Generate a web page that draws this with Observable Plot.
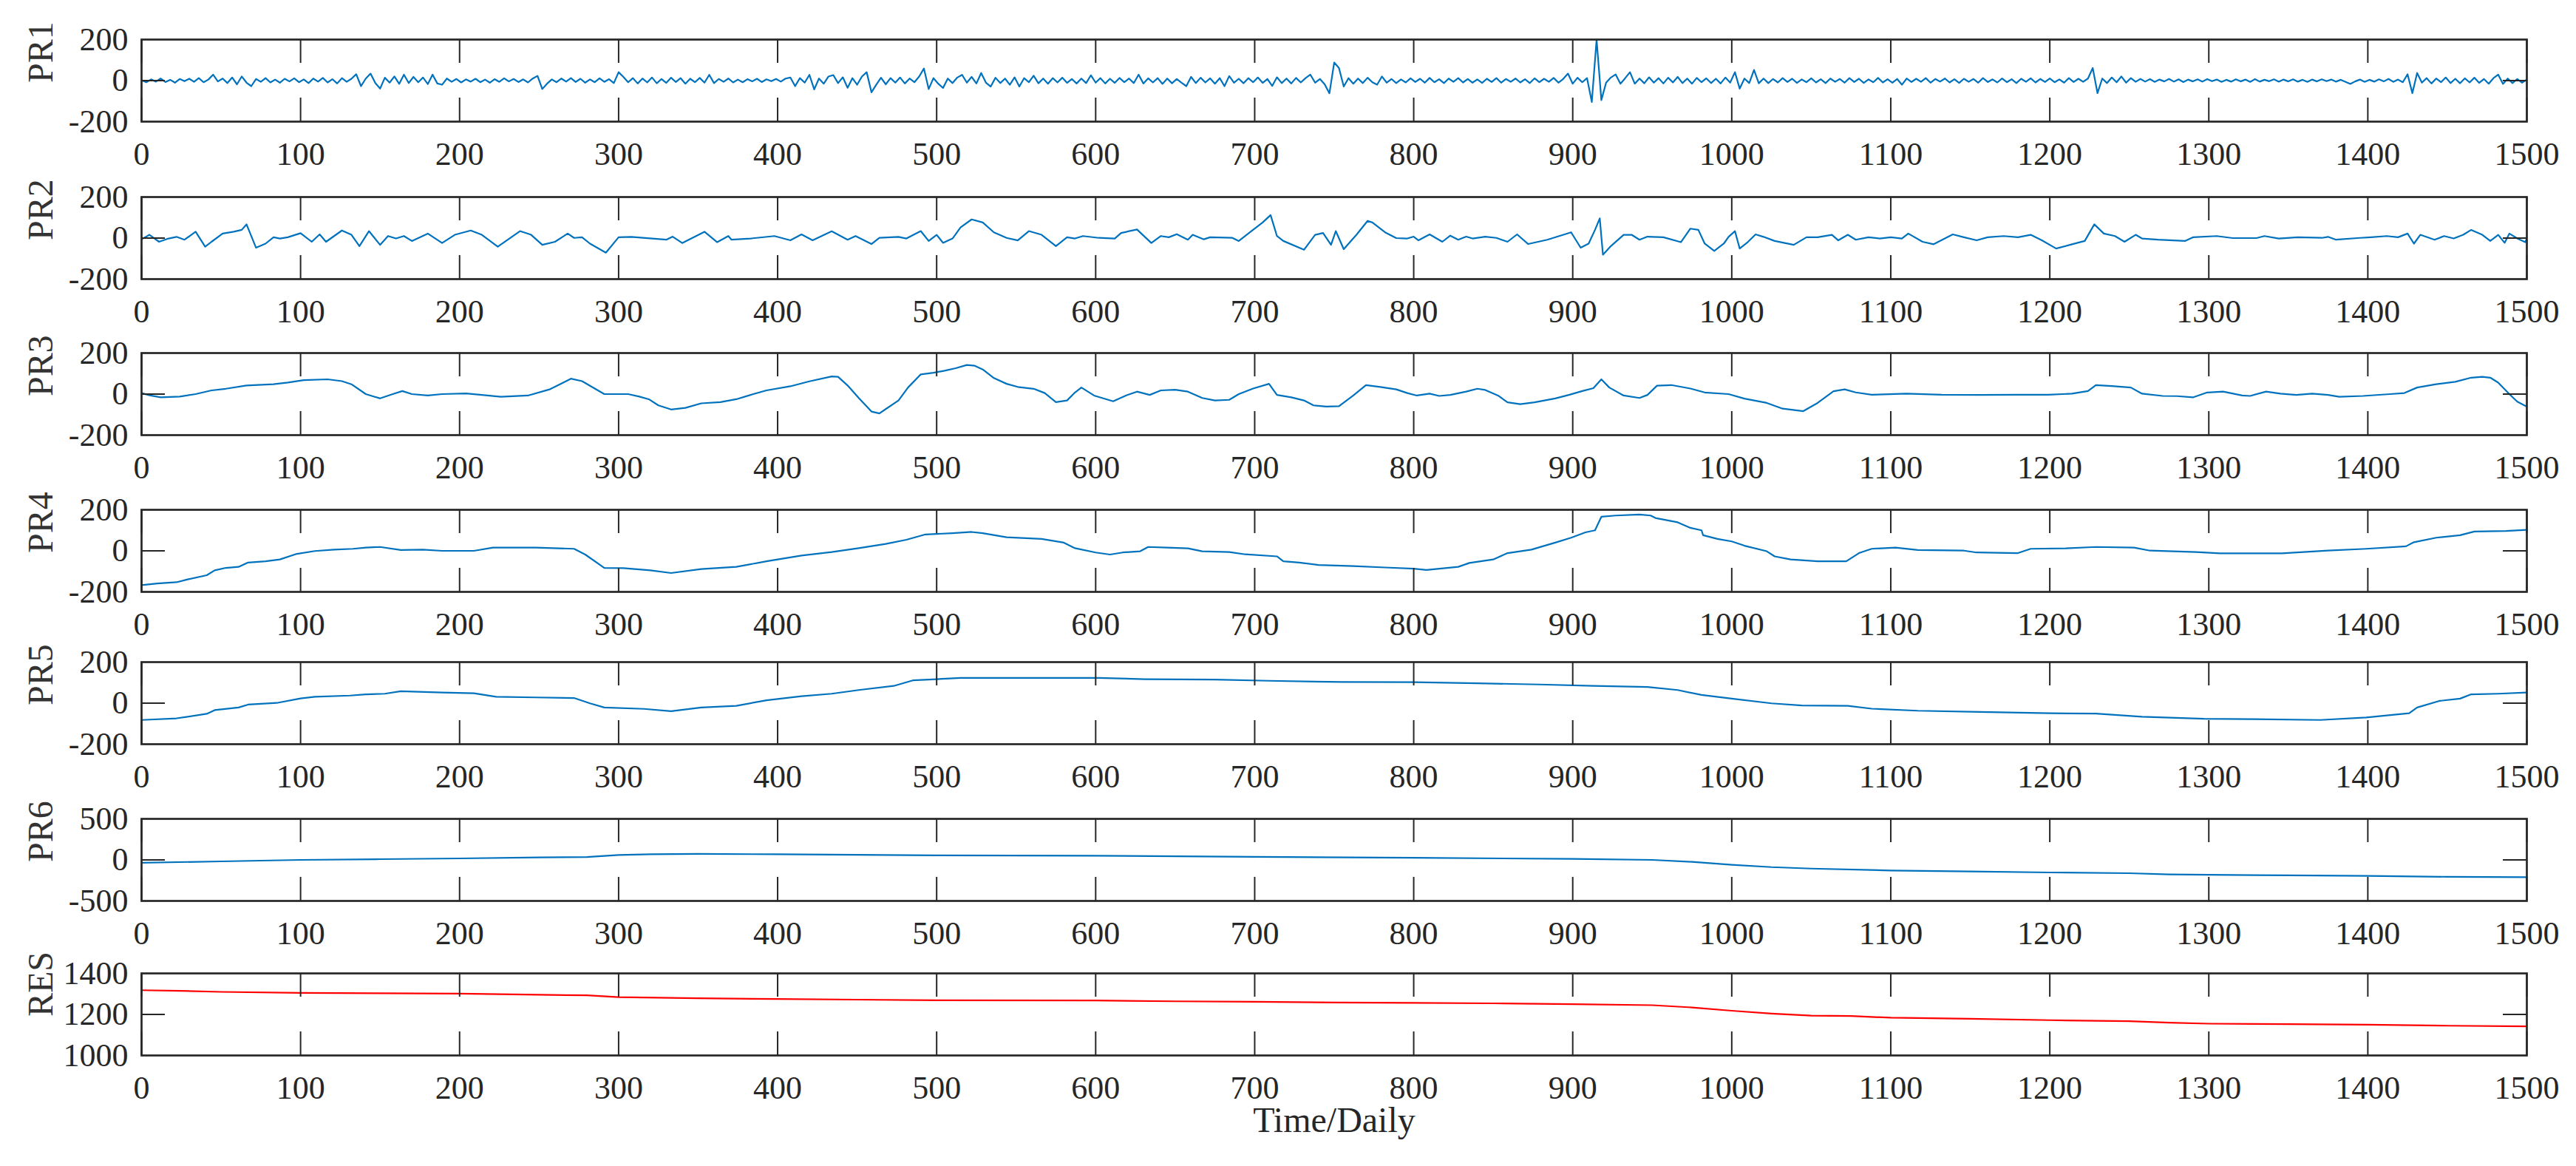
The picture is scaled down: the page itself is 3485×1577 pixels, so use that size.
<!DOCTYPE html>
<html><head><meta charset="utf-8">
<script src="https://cdn.jsdelivr.net/npm/d3@7"></script>
<script src="https://cdn.jsdelivr.net/npm/@observablehq/plot@0.6"></script>
<style>
html,body{margin:0;padding:0;background:#fff;}
#chart{position:relative;width:3485px;height:1577px;background:#fff;overflow:hidden;}
#chart svg{position:absolute;left:0;}
</style></head><body><div id="chart"></div>
<script>
// ---------- data ----------
const xTicks = [0,100,200,300,400,500,600,700,800,900,1000,1100,1200,1300,1400,1500];
const panelLabels = ["PR1","PR2","PR3","PR4","PR5","PR6","RES"];
const yDomains = [[-200,200],[-200,200],[-200,200],[-200,200],[-200,200],[-500,500],[1000,1400]];
const yTicks = [[-200,0,200],[-200,0,200],[-200,0,200],[-200,0,200],[-200,0,200],[-500,0,500],[1000,1200,1400]];
const lineColors = ["#0072BD","#0072BD","#0072BD","#0072BD","#0072BD","#0072BD","#FF0000"];
const xLabel = "Time/Daily";

// PR1: one value every 3 days
const pr1Step = 3;
const pr1Values = [
2,-8,6,-5,10,-7,4,-10,8,-3,
9,-6,12,-8,5,29,-4,10,-12,15,
-18,20,-10,-27,8,-6,12,-9,5,-10,
9,-4,11,-8,6,-12,10,-5,13,-9,
7,-14,12,-6,9,31,-27,10,34,-12,
-39,14,-10,20,-16,29,-12,18,-8,15,
-17,29,-14,-20,10,-6,8,-9,6,-5,
9,-8,5,-10,7,-6,11,-4,8,-7,
6,-9,10,23,-41,-15,6,-8,10,-5,
12,-7,9,-10,6,-8,11,-6,7,-12,
41,18,-8,12,-14,10,-9,15,-13,8,
-11,14,-7,12,-15,9,-8,13,-10,28,
-12,8,-6,10,-9,5,-8,7,-4,9,
-7,6,-3,8,-5,10,15,-27,12,-10,
28,-43,10,-15,20,27,-12,16,-35,12,
-20,20,41,-57,-20,14,-18,12,-10,15,
-14,10,-8,20,59,-41,12,-15,-36,10,
-12,15,28,-10,18,-14,37,-10,-29,14,
-12,10,-20,16,-29,12,-8,24,-13,10,
-15,12,-9,14,-11,8,-14,10,-12,26,
-10,12,-14,9,-11,13,-8,10,-12,29,
-14,11,-9,12,-16,10,-13,8,-10,-27,
18,-12,14,-9,11,-15,12,-27,22,-10,
9,-13,12,-8,15,-11,8,-26,16,-12,
10,-14,13,-9,12,29,-10,8,-18,-62,
88,61,-29,12,-15,10,-12,14,-8,-20,
20,-10,8,-12,6,-9,11,-7,9,-10,
13,-8,7,-12,10,-6,12,-9,8,-10,
6,-11,9,-7,12,-10,8,-6,10,-9,
7,-12,11,-8,9,-6,13,-10,8,34,
-15,14,-8,12,-104,200,-95,-10,15,30,
-15,12,41,-15,10,-13,16,-10,12,-14,
14,-9,18,-12,10,-15,13,-8,11,-12,
9,-14,15,-10,41,-39,10,-12,52,-13,
10,-12,8,-9,12,-7,9,-11,6,-8,
11,-9,7,-12,10,-6,8,-10,12,-7,
9,-11,6,-8,13,-9,7,-10,8,-20,
10,-7,9,-6,12,-10,8,-5,10,-9,
7,-11,9,-6,8,-10,12,-7,6,-9,
10,-8,7,-12,9,-6,11,-9,8,-7,
10,-8,6,-10,12,-7,9,-6,10,61,
-61,10,-12,15,-8,20,-10,12,-6,8,
-5,7,-6,5,-4,8,-5,6,-7,5,
-4,6,-5,7,-3,5,-6,4,-5,6,
-4,5,-6,7,-5,4,-3,6,-5,5,
-4,6,-5,4,-6,5,-4,6,-3,5,
-5,4,-6,-16,-4,5,-6,4,-5,6,
-4,8,-6,5,-8,31,-61,37,-10,12,
-14,10,-8,15,-12,9,-13,11,-9,14,
-11,8,-15,12,29,-16,10,-12,8,-10,
5];

const pr2Days = [0,5,11,17,22,27,34,40,44,51,58,63,66,72,78,83,87,92,100,107,112,116,126,132,137,143,150,155,160,165,170,180,189,197,207,214,224,238,245,252,260,268,272,277,282,292,300,308,330,334,340,354,362,369,371,383,398,408,415,422,434,444,449,459,464,476,481,490,495,500,504,510,515,522,529,536,544,551,558,566,575,582,587,592,602,612,616,626,635,641,646,651,658,661,668,672,686,690,697,705,710,714,718,731,738,743,748,751,756,764,771,774,782,789,796,800,803,810,818,823,828,833,837,845,852,859,865,872,884,899,905,910,914,917,919,924,932,937,942,947,957,968,974,979,983,989,995,998,1002,1005,1010,1015,1020,1027,1039,1047,1054,1063,1067,1073,1078,1086,1093,1100,1107,1111,1120,1127,1139,1146,1154,1161,1171,1180,1188,1195,1204,1214,1222,1228,1234,1241,1247,1254,1258,1268,1285,1290,1305,1315,1330,1335,1344,1356,1371,1375,1380,1395,1402,1412,1419,1425,1429,1433,1442,1448,1454,1460,1465,1472,1477,1482,1486,1489,1494,1499,1500];
const pr2Values = [-6,16,-18,-2,6,-8,31,-42,-18,22,31,40,67,-47,-27,4,-2,4,24,-18,18,-18,37,16,-39,34,-33,10,-2,10,-14,22,-24,16,37,16,-42,34,16,-33,-18,22,1,4,-27,-71,4,6,-8,7,-24,31,-20,10,-8,-2,10,-11,18,-11,33,-8,10,-29,1,6,-2,34,-14,16,-23,-2,52,91,76,28,1,-11,34,16,-39,4,-2,10,1,-2,25,42,-24,10,4,19,-8,16,-6,4,1,-14,28,76,112,10,-14,-57,16,25,-33,34,-54,16,84,76,28,0,-2,7,-11,18,-18,12,-8,7,-2,7,1,-18,18,-29,-8,28,-47,-27,40,96,-81,-39,16,16,-8,7,4,-20,46,40,-27,-63,-27,6,34,-51,-20,18,6,-14,-33,4,4,16,-11,16,-8,4,-2,4,-2,22,-18,-30,18,4,-11,4,10,4,16,-11,-51,-30,-14,67,22,10,-18,16,-2,-8,-14,4,10,0,0,10,-2,4,1,6,-8,1,4,10,4,22,-27,16,-8,10,-2,16,40,16,-14,16,-23,22,-2,-20,-2];

const pr3Days = [0,5,12,24,34,44,53,66,83,92,102,117,126,132,141,150,158,164,170,180,189,204,214,226,243,257,270,277,291,306,313,319,325,333,342,352,364,374,383,393,408,420,434,438,444,451,459,464,468,476,482,490,498,505,512,519,524,529,536,544,551,561,568,575,582,587,591,599,611,619,626,634,641,650,658,667,675,684,690,699,709,714,723,731,737,745,753,762,770,779,789,796,802,810,816,823,833,840,845,853,859,867,876,889,898,906,913,918,923,932,942,947,953,962,974,983,998,1008,1022,1032,1045,1054,1064,1071,1078,1088,1110,1132,1156,1180,1199,1214,1224,1229,1239,1251,1258,1271,1280,1290,1299,1309,1321,1326,1336,1345,1355,1365,1375,1382,1397,1414,1423,1431,1443,1455,1465,1472,1477,1482,1489,1494,1500];
const pr3Values = [5,-6,-16,-12,0,18,26,42,48,56,68,72,63,48,0,-21,0,15,0,-7,0,3,-4,-13,-7,24,75,63,0,0,-12,-25,-55,-75,-67,-45,-39,-25,-4,18,38,62,86,84,42,-19,-85,-94,-73,-31,32,96,104,114,126,142,138,120,78,50,35,26,5,-39,-31,8,32,-7,-35,-7,12,-4,18,21,12,-19,-31,-28,0,27,50,-4,-16,-31,-55,-61,-59,-7,44,35,23,5,-7,2,-9,-4,12,26,20,-7,-40,-49,-40,-21,-3,15,29,72,32,-7,-19,-4,41,44,27,8,0,-22,-43,-71,-83,-43,14,23,8,-3,2,-3,-4,-3,-3,2,15,44,39,32,2,-9,-10,-16,8,12,-7,-9,12,2,-4,2,-4,-13,-9,0,5,32,48,60,80,84,80,56,0,-37,-61];

const pr4Days = [0,10,22,29,41,46,53,61,67,78,87,97,109,121,133,141,150,163,177,189,209,221,248,272,279,291,303,320,333,352,374,393,415,434,451,468,481,493,510,522,529,544,566,580,587,600,609,617,628,633,645,658,667,684,694,714,718,728,740,762,782,800,808,828,835,850,859,874,889,899,908,914,918,927,942,949,952,966,974,981,982,991,1000,1008,1022,1027,1037,1054,1072,1080,1088,1103,1117,1146,1154,1180,1188,1210,1229,1253,1263,1292,1307,1346,1375,1399,1424,1429,1443,1458,1467,1487,1500];
const pr4Values = [-167,-159,-153,-139,-119,-95,-83,-78,-57,-51,-42,-16,-1,6,10,16,19,4,6,0,0,16,16,10,-18,-83,-84,-95,-108,-89,-78,-51,-23,-6,13,34,54,80,86,92,86,66,58,40,13,-8,-18,-8,-2,19,16,12,-2,-6,-17,-27,-51,-57,-69,-74,-81,-87,-93,-78,-59,-42,-11,6,40,64,90,100,166,172,177,172,160,139,112,100,76,58,46,25,-2,-27,-42,-51,-51,-11,10,16,4,1,-8,-11,10,12,19,16,1,-6,-12,-12,1,10,22,42,64,76,94,97,102];

const pr5Days = [0,22,29,41,46,61,67,85,100,109,131,141,153,163,189,209,223,248,272,282,291,316,333,352,374,393,415,434,451,473,485,500,515,602,631,675,709,755,800,840,879,913,947,966,981,1000,1025,1044,1073,1088,1117,1156,1200,1229,1258,1297,1326,1370,1399,1426,1431,1445,1458,1465,1482,1500];
const pr5Values = [-82,-74,-66,-52,-34,-21,-7,1,23,31,37,43,46,58,52,48,31,28,25,-1,-21,-28,-39,-21,-13,14,34,46,64,84,111,117,123,123,117,115,109,103,102,97,91,84,79,64,40,22,-1,-11,-13,-27,-37,-43,-49,-51,-66,-76,-78,-82,-70,-49,-21,11,22,43,46,52];

const pr6Days = [0,50,100,150,200,250,280,300,320,350,400,450,500,600,700,800,900,950,975,1000,1025,1050,1100,1150,1200,1250,1275,1300,1350,1400,1450,1500];
const pr6Values = [-35,-18,0,9,18,30,35,59,68,74,68,62,56,50,38,26,12,0,-24,-59,-88,-106,-129,-141,-153,-162,-176,-182,-188,-194,-206,-211];

const resDays = [0,25,50,100,150,200,250,280,300,350,400,450,500,600,650,700,750,800,850,900,950,975,1000,1025,1050,1075,1100,1150,1200,1250,1275,1300,1350,1400,1450,1500];
const resValues = [1318,1315,1310,1305,1303,1301,1296,1293,1284,1279,1275,1272,1269,1268,1264,1262,1258,1256,1254,1250,1245,1234,1218,1204,1194,1192,1184,1179,1172,1167,1160,1155,1153,1150,1145,1142];

// ---------- build ----------
const pair = (days, vals) => days.map((d, i) => ({day: d, value: vals[i]}));
const series = [
  pr1Values.map((v, i) => ({day: i * pr1Step, value: v})),
  pair(pr2Days, pr2Values),
  pair(pr3Days, pr3Values),
  pair(pr4Days, pr4Values),
  pair(pr5Days, pr5Values),
  pair(pr6Days, pr6Values),
  pair(resDays, resValues)
];

const WIDTH = 3485, ML = 191, MR = 67, MT = 30, IH = 111, MB = 70;
const IW = WIDTH - ML - MR;
const panelTops = [53.3, 265.7, 476.5, 689, 895, 1107, 1316];
const FONT = '"Liberation Serif","Times New Roman",Times,serif';
const INK = "#262626";
const TICK = 32;
const chart = document.getElementById("chart");

series.forEach((data, k) => {
  const last = k === series.length - 1;
  const mb = last ? 150 : MB;
  const mid = [yTicks[k][1]];
  const marks = [
    Plot.line(data, {x: "day", y: "value", stroke: lineColors[k], strokeWidth: 2.2, clip: true}),
    Plot.tickX(xTicks, {x: d => d, stroke: INK, strokeWidth: 2, insetBottom: IH - TICK}),
    Plot.tickX(xTicks, {x: d => d, stroke: INK, strokeWidth: 2, insetTop: IH - TICK}),
    Plot.tickY(mid, {y: d => d, stroke: INK, strokeWidth: 2, insetRight: IW - TICK}),
    Plot.tickY(mid, {y: d => d, stroke: INK, strokeWidth: 2, insetLeft: IW - TICK}),
    Plot.frame({stroke: INK, strokeWidth: 2.7}),
    Plot.axisX({ticks: xTicks, tickSize: 0, tickPadding: 27, tickFormat: d => String(d), fontSize: 44, fill: INK, label: null}),
    Plot.axisY({ticks: yTicks[k], tickSize: 0, tickPadding: 18, tickFormat: d => String(d), fontSize: 44, fill: INK, label: null}),
    Plot.text([panelLabels[k]], {text: d => d, frameAnchor: "left", dx: -136, dy: 3, rotate: -90, fontSize: 48, fill: "#333333"})
  ];
  if (last) {
    marks.push(Plot.text([xLabel], {text: d => d, frameAnchor: "bottom", dy: 103, fontSize: 48, fill: INK}));
  }
  const svg = Plot.plot({
    width: WIDTH,
    height: MT + IH + mb,
    marginLeft: ML, marginRight: MR, marginTop: MT, marginBottom: mb,
    x: {domain: [0, 1500]},
    y: {domain: yDomains[k]},
    style: {fontFamily: FONT, background: "transparent", color: INK, overflow: "visible"},
    marks
  });
  svg.style.top = (panelTops[k] - MT) + "px";
  chart.appendChild(svg);
});
</script>
</body></html>
